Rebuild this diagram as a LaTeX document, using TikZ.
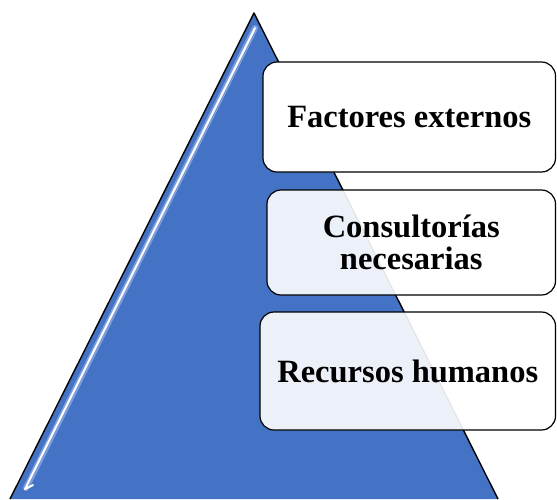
\documentclass[tikz,border=0pt]{standalone}
\usepackage{fontspec}
\setmainfont{Liberation Serif}
\definecolor{pyrblue}{HTML}{4472C4}
\definecolor{pyrglow}{HTML}{A9C2EE}
\begin{document}
\begin{tikzpicture}[x=1pt, y=-1pt,
    level/.style={draw=black, line width=1.2pt, rounded corners=14pt, fill=white,
      font=\bfseries\fontsize{32.5}{32}\selectfont, align=center, text=black},
    seethrough/.style={level, fill opacity=0.9, text opacity=1}]
  \useasboundingbox (0,0) rectangle (557,499);

  % pyramid
  \coordinate (apex) at (254,13);
  \coordinate (baseleft) at (10,499);
  \coordinate (baseright) at (498,499);
  \fill[pyrblue] (apex) -- (baseleft) -- (baseright) -- cycle;
  \draw[pyrglow, line width=6pt, line cap=round, opacity=0.55] (255,28) -- (26,488);
  \draw[white, line width=2pt, line cap=round, line join=round] (255,28) -- (25,489) -- (33,485);
  \draw[black, line width=1.4pt, line join=round] (baseleft) -- (apex) -- (baseright);

  % levels
  \node[level, minimum width=292.5pt, minimum height=110pt] (factores) at (409.25,117) {Factores externos};
  \node[seethrough, minimum width=288.5pt, minimum height=105pt] (consultorias) at (411.25,242.5) {Consultorías\\necesarias};
  \node[seethrough, minimum width=295.5pt, minimum height=118pt] (recursos) at (407.75,371) {Recursos humanos};
\end{tikzpicture}
\end{document}
